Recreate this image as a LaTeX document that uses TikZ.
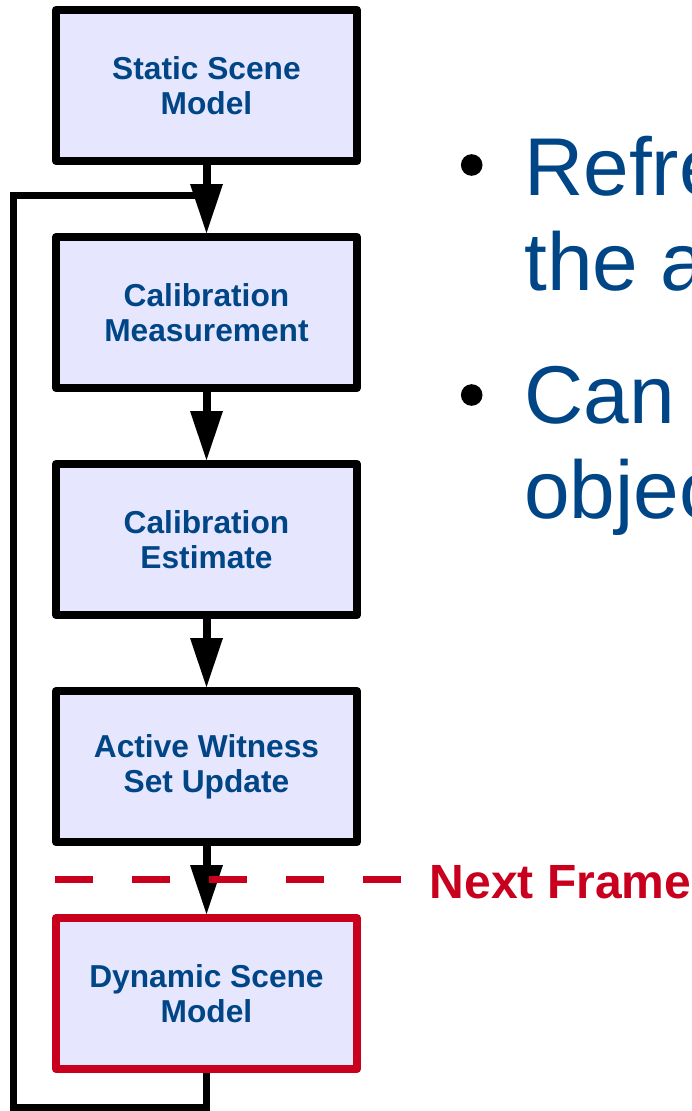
\documentclass[tikz,border=0pt]{standalone}
\usepackage{fontspec}
\setmainfont{Liberation Sans}
\usetikzlibrary{arrows.meta}
\definecolor{boxfill}{HTML}{E6E6FF}
\definecolor{txtblue}{HTML}{004586}
\definecolor{frred}{HTML}{C8001E}
\tikzset{
  stepbox/.style={draw=black, line width=8pt, fill=boxfill, minimum width=301pt,
    minimum height=151pt, inner sep=0pt, align=center, line join=round,
    font=\fontsize{31.7}{35}\selectfont\bfseries, text=txtblue},
  flow/.style={line width=8pt, -{Triangle[width=33pt,length=49pt,line width=0pt]}},
  fbline/.style={line width=7pt, line join=miter},
  nextline/.style={draw=frred, line width=7pt, dash pattern=on 38pt off 39pt},
  bigtext/.style={anchor=base west, inner sep=0pt, text=txtblue,
    font=\fontsize{82}{95}\selectfont},
  bulletdot/.style={circle, fill=black, minimum size=21.6pt, inner sep=0pt},
}
\begin{document}
\begin{tikzpicture}[x=1pt,y=-1pt]
\useasboundingbox (0,0) rectangle (692,1111);
\clip (0,0) rectangle (692,1111);

\node[stepbox] (b1) at (206.5,85.5) {Static Scene\\Model};
\node[stepbox] (b2) at (206.5,312.5) {Calibration\\Measurement};
\node[stepbox] (b3) at (206.5,539.5) {Calibration\\Estimate};
\node[stepbox] (b4) at (206.5,766.5) {Active Witness\\Set Update};
\node[stepbox, draw=frred] (b5) at (206.5,993.5) {Dynamic Scene\\Model};

\coordinate (fbL) at (13.5,1107.5);
\coordinate (fbT) at (206.5,195.5);
\draw[fbline] (b5.south) -- (b5.south |- fbL) -- (fbL) -- (fbL |- fbT) -- (fbT);

\draw[flow] (b1) -- (b2);
\draw[flow] (b2) -- (b3);
\draw[flow] (b3) -- (b4);
\draw[flow] (b4) -- (b5);

\coordinate (dashA) at (55,879.5);
\coordinate (dashB) at (401,879.5);
\draw[nextline] (dashA) -- (dashB);
\node[anchor=base west, inner sep=0pt, text=frred,
  font=\fontsize{48}{48}\selectfont\bfseries] (nf) at (429.5,898) {Next Frame};

\node[bulletdot] (bul1) at (471.7,165) {};
\node[bulletdot] (bul2) at (471.7,395) {};
\node[bigtext] (t1) at (524,195) {Refre};
\node[bigtext] (t2) at (524,290.5) {the a};
\node[bigtext] (t3) at (524,423) {Can};
\node[bigtext] (t4) at (524,518) {objec};
\end{tikzpicture}
\end{document}
